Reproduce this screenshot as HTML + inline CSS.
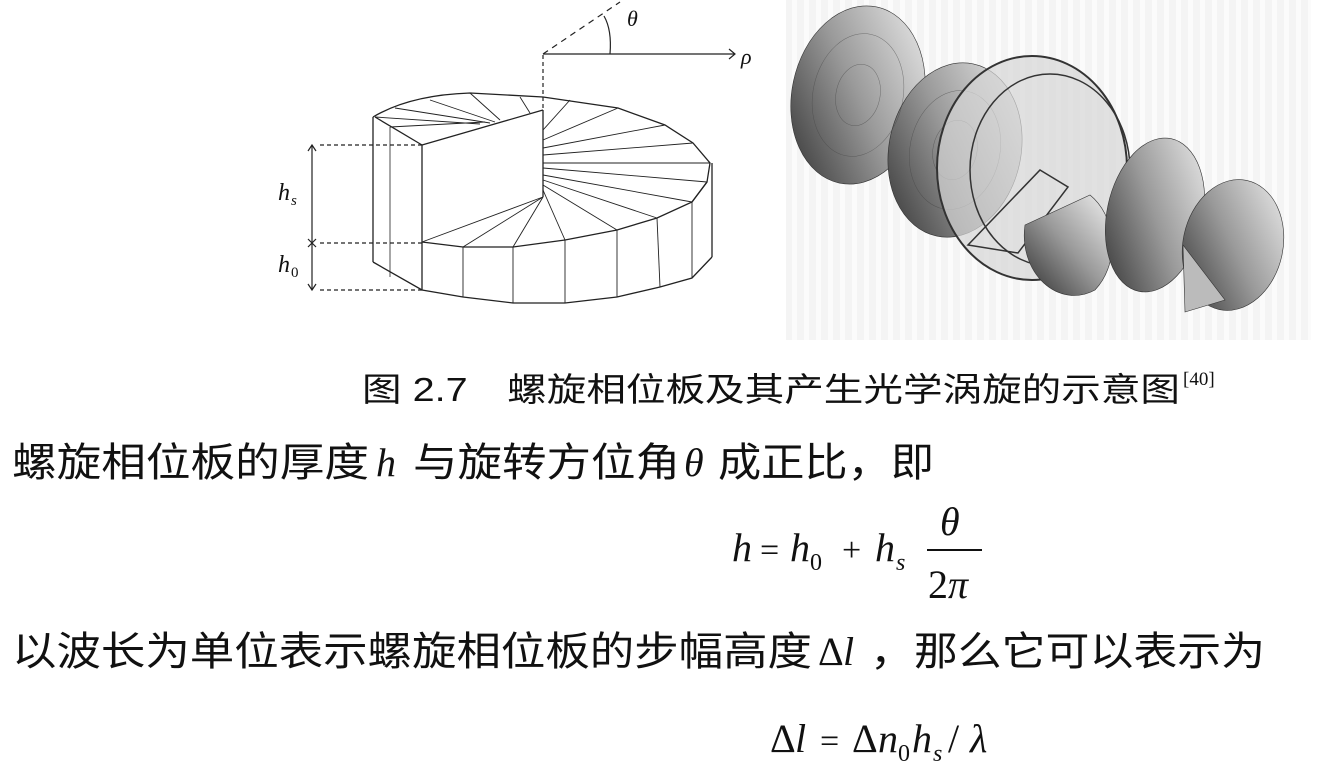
<!DOCTYPE html>
<html><head><meta charset="utf-8"><style>
html,body{margin:0;padding:0;background:#fff;width:1317px;height:783px;overflow:hidden}
svg{display:block}
.cjk{font-family:"Liberation Sans","Noto Sans CJK SC",sans-serif;fill:#111}
.m{font-family:"Liberation Serif",serif;font-style:italic;fill:#111}
.mr{font-family:"Liberation Serif",serif;font-style:normal;fill:#111}
</style></head><body>
<svg width="1317" height="783" viewBox="0 0 1317 783" xmlns="http://www.w3.org/2000/svg">
<defs>
<linearGradient id="dg" x1="1" y1="0" x2="0" y2="1">
<stop offset="0" stop-color="#f0f0f0"/><stop offset="0.5" stop-color="#9a9a9a"/><stop offset="1" stop-color="#2e2e2e"/>
</linearGradient>
<pattern id="stripes" width="12" height="10" patternUnits="userSpaceOnUse">
<rect width="12" height="10" fill="#f4f4f4"/><rect x="0" width="5" height="10" fill="#fbfbfb"/>
</pattern>
</defs>

<rect x="786" y="0" width="525" height="340" fill="url(#stripes)"/>
<g stroke="#333" stroke-width="0.6">
<ellipse cx="858" cy="95" rx="66" ry="90" transform="rotate(12 858 95)" fill="url(#dg)"/>
<ellipse cx="955" cy="150" rx="66" ry="88" transform="rotate(12 955 150)" fill="url(#dg)"/>
</g>
<g fill="none" stroke="#444" stroke-width="0.5" opacity="0.6">
<ellipse cx="858" cy="95" rx="45" ry="62" transform="rotate(12 858 95)"/>
<ellipse cx="858" cy="95" rx="22" ry="31" transform="rotate(12 858 95)"/>
<ellipse cx="955" cy="150" rx="45" ry="60" transform="rotate(12 955 150)"/>
<ellipse cx="955" cy="150" rx="22" ry="30" transform="rotate(12 955 150)"/>
</g>
<ellipse cx="1032" cy="168" rx="95" ry="112" fill="#d6d6d6" fill-opacity="0.7" stroke="#333" stroke-width="2"/>
<ellipse cx="1050" cy="170" rx="80" ry="96" fill="none" stroke="#333" stroke-width="1.5"/>
<polygon points="1040,170 1068,187 1018,253 968,245" fill="none" stroke="#333" stroke-width="1.5"/>
<g stroke="#333" stroke-width="0.6">
<path d="M1025,225 L1090,195 A50,60 0 0 1 1095,290 A50,60 0 0 1 1025,225 Z" fill="url(#dg)"/>
<ellipse cx="1155" cy="215" rx="48" ry="78" transform="rotate(12 1155 215)" fill="url(#dg)"/>
<ellipse cx="1233" cy="245" rx="50" ry="66" transform="rotate(12 1233 245)" fill="url(#dg)"/>
<polygon points="1183,245 1225,300 1185,312" fill="#bbb"/>
</g>

<g fill="none" stroke="#222" stroke-width="1.3">
<path d="M373,117 Q410,95 470,93 L543,97 L618,108 L665,125 L693,143 L710,163 L707,182 L692,202"/>
<polyline points="422,242 463,247 513,247 565,240 617,230 657,218 692,202 707,182"/>
<polyline points="373,262 422,290 463,297 513,303 565,303 617,297 660,287 692,278 712,257"/>
<line x1="712" y1="163" x2="712" y2="257"/>
<line x1="373" y1="117" x2="373" y2="262"/>
<line x1="390" y1="127" x2="390" y2="277" stroke-width="0.8"/>
<line x1="422" y1="145" x2="422" y2="290"/>
<line x1="375" y1="117" x2="422" y2="145"/>
<line x1="422" y1="145" x2="543" y2="110"/>
<line x1="543" y1="110" x2="543" y2="197"/>
<g stroke-width="0.9">
<line x1="463" y1="247" x2="463" y2="297"/><line x1="513" y1="247" x2="513" y2="303"/>
<line x1="565" y1="240" x2="565" y2="303"/><line x1="617" y1="230" x2="617" y2="297"/>
<line x1="657" y1="218" x2="660" y2="287"/><line x1="692" y1="202" x2="692" y2="278"/>
<line x1="543" y1="197" x2="422" y2="242"/><line x1="543" y1="197" x2="463" y2="247"/>
<line x1="543" y1="197" x2="513" y2="247"/><line x1="543" y1="190" x2="565" y2="240"/>
<line x1="543" y1="185" x2="617" y2="230"/><line x1="543" y1="180" x2="657" y2="218"/>
<line x1="543" y1="175" x2="692" y2="202"/><line x1="543" y1="168" x2="707" y2="182"/>
<line x1="543" y1="163" x2="710" y2="163"/><line x1="543" y1="155" x2="693" y2="143"/>
<line x1="543" y1="148" x2="665" y2="125"/><line x1="543" y1="140" x2="618" y2="108"/>
<line x1="543" y1="130" x2="570" y2="100"/><line x1="530" y1="113" x2="520" y2="97"/>
<line x1="500" y1="120" x2="470" y2="93"/><line x1="495" y1="122" x2="430" y2="100"/>
<line x1="490" y1="123" x2="395" y2="108"/><line x1="480" y1="124" x2="375" y2="117"/>
<line x1="485" y1="122" x2="390" y2="127"/>
</g>
</g>
<g stroke="#222" stroke-width="1.2" fill="none">
<line x1="543" y1="55" x2="543" y2="110" stroke-dasharray="4,3"/>
<line x1="543" y1="54" x2="735" y2="54"/>
<polyline points="729,49 735,54 729,59"/>
<line x1="543" y1="54" x2="620" y2="2" stroke-dasharray="6,5"/>
<path d="M604,16 Q612,30 610,54"/>
<line x1="312" y1="145" x2="312" y2="290"/>
<polyline points="308,151 312,145 316,151"/><polyline points="308,284 312,290 316,284"/>
<line x1="308" y1="239" x2="316" y2="247"/><line x1="316" y1="239" x2="308" y2="247"/>
<g stroke-dasharray="4,3"><line x1="320" y1="145" x2="422" y2="145"/><line x1="320" y1="243" x2="422" y2="243"/><line x1="320" y1="290" x2="422" y2="290"/></g>
</g>
<text x="627" y="26" class="m" font-size="22">θ</text>
<text x="741" y="64" class="m" font-size="22">ρ</text>
<text x="278" y="200" class="m" font-size="24">h</text><text x="291" y="205" class="m" font-size="15">s</text>
<text x="278" y="272" class="m" font-size="24">h</text><text x="291" y="277" class="mr" font-size="15">0</text>

<text x="362" y="401" class="cjk" font-size="33" textLength="818" lengthAdjust="spacingAndGlyphs" fill="#222">图 2.7　螺旋相位板及其产生光学涡旋的示意图</text>
<text x="1183" y="385" class="mr" font-size="19">[40]</text>

<text x="12" y="476" class="cjk" font-size="40" textLength="357" lengthAdjust="spacingAndGlyphs">螺旋相位板的厚度</text>
<text x="376" y="476" class="m" font-size="40">h</text>
<text x="413" y="476" class="cjk" font-size="40" textLength="267" lengthAdjust="spacingAndGlyphs">与旋转方位角</text>
<text x="684" y="476" class="m" font-size="40">θ</text>
<text x="718" y="476" class="cjk" font-size="40" textLength="216" lengthAdjust="spacingAndGlyphs">成正比，即</text>

<text x="732" y="561" class="m" font-size="40">h</text>
<text x="760" y="561" class="mr" font-size="34">=</text>
<text x="790" y="561" class="m" font-size="40">h</text>
<text x="810" y="570" class="mr" font-size="24">0</text>
<text x="842" y="561" class="mr" font-size="34">+</text>
<text x="875" y="561" class="m" font-size="40">h</text>
<text x="896" y="570" class="m" font-size="24">s</text>
<text x="940" y="535" class="m" font-size="40">θ</text>
<line x1="927" y1="550" x2="982" y2="550" stroke="#111" stroke-width="2"/>
<text x="928" y="598" class="mr" font-size="40">2</text><text x="948" y="598" class="m" font-size="40">π</text>

<text x="12" y="665" class="cjk" font-size="40" textLength="800" lengthAdjust="spacingAndGlyphs">以波长为单位表示螺旋相位板的步幅高度</text>
<text x="818" y="665" class="mr" font-size="40">Δ</text><text x="843" y="665" class="m" font-size="40">l</text>
<text x="870" y="665" class="cjk" font-size="40" textLength="395" lengthAdjust="spacingAndGlyphs">，那么它可以表示为</text>

<text x="770" y="752" class="mr" font-size="40">Δ</text><text x="795" y="752" class="m" font-size="40">l</text>
<text x="820" y="752" class="mr" font-size="34">=</text>
<text x="852" y="752" class="mr" font-size="40">Δ</text>
<text x="878" y="752" class="m" font-size="40">n</text>
<text x="898" y="761" class="mr" font-size="24">0</text>
<text x="912" y="752" class="m" font-size="40">h</text>
<text x="933" y="761" class="m" font-size="24">s</text>
<text x="948" y="752" class="mr" font-size="40">/</text>
<text x="970" y="752" class="m" font-size="40">λ</text>
</svg>
</body></html>
